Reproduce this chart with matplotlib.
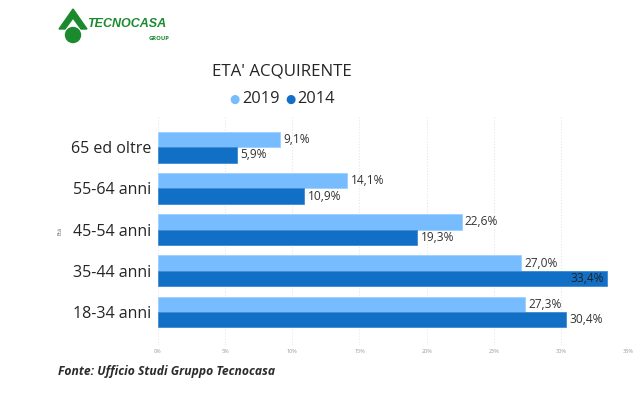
import matplotlib.pyplot as plt
import numpy as np
from matplotlib.patches import Circle, Polygon

# data
categories = ['18-34 anni', '35-44 anni', '45-54 anni', '55-64 anni', '65 ed oltre']
val_2019 = [27.3, 27.0, 22.6, 14.1, 9.1]
val_2014 = [30.4, 33.4, 19.3, 10.9, 5.9]
xticks = [0, 5, 10, 15, 20, 25, 30, 35]

c_light = '#76BCFF'
c_dark = '#126FC6'
green = '#1B8A2E'

plt.rcParams['font.family'] = ['Open Sans', 'DejaVu Sans']

fig = plt.figure(figsize=(6.4, 3.99), dpi=100)
ax = fig.add_axes([0.2469, 0.1353, 0.7344, 0.5715])

y = np.arange(len(categories))
h = 0.375
b1 = ax.barh(y + h / 2, val_2019, height=h, color=c_light, edgecolor='#9ccfff', linewidth=0.6)
b2 = ax.barh(y - h / 2, val_2014, height=h, color=c_dark, edgecolor='#3d8ad6', linewidth=0.6)

def lab(v):
    return f'{v:.1f}%'.replace('.', ',')

for rect, v in zip(b1, val_2019):
    ax.text(v + 0.25, rect.get_y() + rect.get_height() / 2, lab(v),
            va='center', ha='left', fontsize=8.6, color='#333333')
for rect, v in zip(b2, val_2014):
    if v > 33:
        ax.text(v - 0.2, rect.get_y() + rect.get_height() / 2, lab(v),
                va='center', ha='right', fontsize=8.6, color='#222222')
    else:
        ax.text(v + 0.25, rect.get_y() + rect.get_height() / 2, lab(v),
                va='center', ha='left', fontsize=8.6, color='#333333')

ax.set_xlim(0, 35)
ax.set_ylim(-0.8, 4.73)
ax.set_xticks(xticks)
ax.set_xticklabels([f'{t}%' for t in xticks], fontsize=4, color='#999999')
ax.set_yticks(y)
ax.set_yticklabels(categories, fontsize=11.5, color='#252525')
ax.tick_params(axis='both', length=0, pad=3)
ax.tick_params(axis='y', pad=5)
ax.grid(axis='x', color='#e6e6e6', linestyle=':', linewidth=0.8)
ax.set_axisbelow(True)
for s in ax.spines.values():
    s.set_visible(False)
ax.set_ylabel('Età', fontsize=4, color='#666666', labelpad=6)

# title and legend
fig.text(282 / 640, 1 - 72 / 399, "ETA' ACQUIRENTE", ha='center', va='center', fontsize=12.2, color='#252525')
fig.text(234 / 640, 1 - 99 / 399, '●', ha='center', va='center', fontsize=8.5, color=c_light)
fig.text(242 / 640, 1 - 99 / 399, '2019', ha='left', va='center', fontsize=11.8, color='#252525')
fig.text(290 / 640, 1 - 99 / 399, '●', ha='center', va='center', fontsize=8.5, color=c_dark)
fig.text(297 / 640, 1 - 99 / 399, '2014', ha='left', va='center', fontsize=11.8, color='#252525')

# source
fig.text(58 / 640, 1 - 371 / 399, 'Fonte: Ufficio Studi Gruppo Tecnocasa', ha='left', va='center',
         fontsize=8.7, fontweight='bold', fontstyle='italic', color='#2b2b2b')

# logo
lax = fig.add_axes([0, 0, 1, 1], zorder=-1)
lax.set_xlim(0, 640)
lax.set_ylim(399, 0)
lax.axis('off')
lax.add_patch(Polygon([[59, 29], [73, 9], [87, 29], [81, 29], [73, 18], [65, 29]], closed=True, color=green))
lax.add_patch(Circle((73, 35), 7.5, color=green))
lax.text(87, 24, 'TECNOCASA', fontsize=9, fontweight='bold', fontstyle='italic', color=green,
         ha='left', va='center', family='Liberation Sans')
lax.text(149, 38, 'GROUP', fontsize=4.2, fontweight='bold', color=green, ha='left', va='center')

fig.savefig('out.png', dpi=100, facecolor='white')
